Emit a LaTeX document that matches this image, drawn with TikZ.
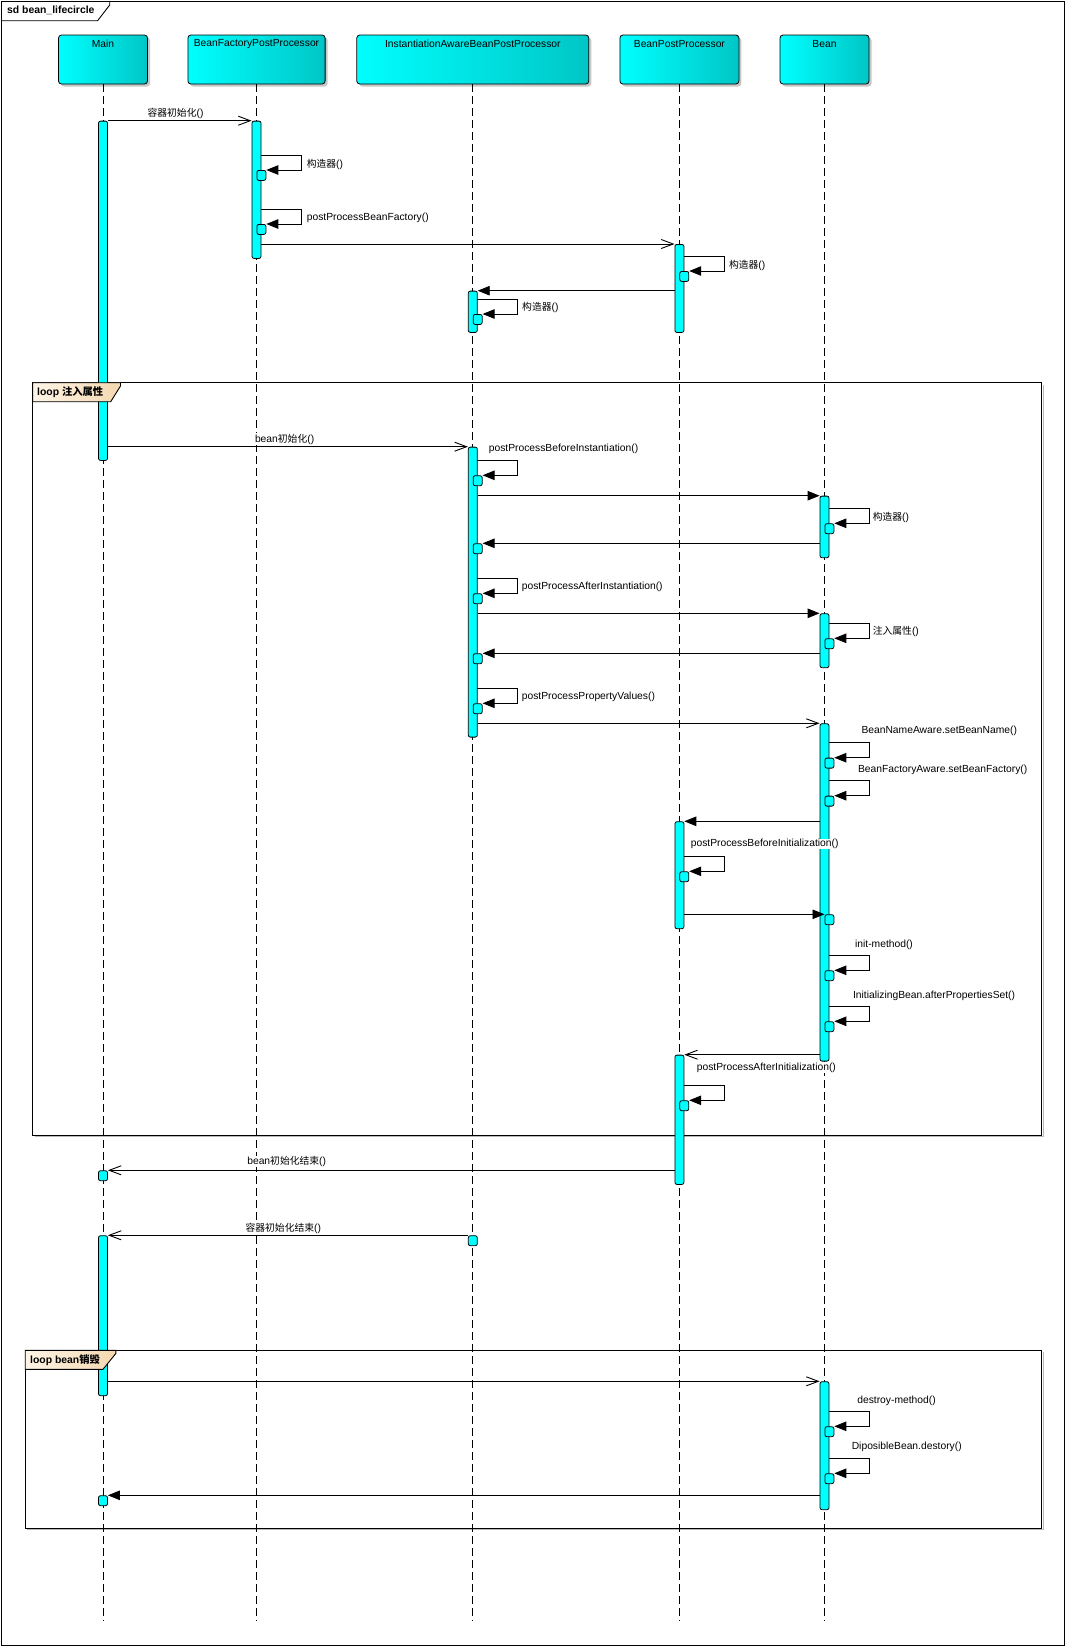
\documentclass[tikz,border=0pt]{standalone}
\usepackage{fontspec}
\setmainfont{Liberation Sans}
\newfontfamily\cjk{Noto Sans CJK SC}
\usetikzlibrary{arrows.meta,shadows}
\newcommand\zh[1]{{\cjk\fontsize{9.8}{11}\selectfont #1}}
\newcommand\zhb[1]{{\cjk\fontsize{10.3}{11}\selectfont #1}}
\definecolor{cyanA}{RGB}{0,255,255}
\definecolor{tealB}{RGB}{0,198,198}
\definecolor{peachA}{RGB}{254,244,230}
\definecolor{peachB}{RGB}{244,216,176}
\def\xM{103}
\def\xF{256.5}
\def\xI{472.8}
\def\xP{679.4}
\def\xB{824.5}
% self message: #1 lifeline x, #2 top y, #3 name of the small box
\newcommand\selfm[3]{%
  \node[ebox, anchor=north west] (#3) at (#1,#2+15) {};
  \draw[fillarr] (#1+4.5,#2) -- (#1+45,#2) -- (#1+45,#2+15) -- (#3.north east);
}
\begin{document}
\begin{tikzpicture}[x=1pt,y=-1pt,
  every node/.style={font=\fontsize{10.3}{12}\selectfont, inner sep=0.5pt},
  head/.style={draw=black, line width=0.8pt, rounded corners=3pt, left color=cyanA, right color=tealB,
    drop shadow={shadow xshift=2.5pt, shadow yshift=-2.5pt, fill=black, opacity=0.22},
    minimum height=49pt, inner sep=0pt},
  act/.style={draw=black, line width=0.8pt, fill=cyanA, rounded corners=2pt, minimum width=9pt, inner sep=0pt, anchor=north},
  ebox/.style={draw=black, line width=0.8pt, fill=cyanA, rounded corners=2pt, minimum width=9pt, minimum height=10pt, inner sep=0pt},
  msg/.style={line width=0.9pt},
  openarr/.style={msg, -{Straight Barb[length=12pt,width=9pt]}},
  fillarr/.style={msg, -{Triangle[length=12pt,width=9.5pt]}},
  lbl/.style={fill=white, inner sep=0.6pt, anchor=west},
  clbl/.style={fill=white, inner sep=0.6pt},
  lifeline/.style={line width=0.8pt, dash pattern=on 8pt off 4pt},
  frame/.style={line width=0.9pt},
  tab/.style={frame, left color=peachA, right color=peachB},
  boldlbl/.style={anchor=west, font=\bfseries\fontsize{10.4}{12}\selectfont}
]
\useasboundingbox (0,0) rectangle (1066,1647);
\fill[white] (0,0) rectangle (1066,1647);

% outer frame
\draw[frame] (1.5,1.5) rectangle (1064.5,1645.5);
\draw[frame] (1.5,20.7) -- (97.6,20.7) -- (109.7,5) -- (109.7,1.5);
\node[boldlbl] (title) at (6.5,10.8) {sd bean\_lifecircle};

% loop frames
\draw[gray!55, line width=1pt] (34.5,1136.6) -- (1043.1,1136.6) -- (1043.1,384.5);
\draw[frame] (32.6,382.7) rectangle (1041.5,1135);
\draw[gray!55, line width=1pt] (27,1529.9) -- (1043.1,1529.9) -- (1043.1,1352);
\draw[frame] (25.2,1350.3) rectangle (1041.5,1528.3);

% headers
\node[head, minimum width=89pt] (hM) at (\xM,59.5) {};
\node[head, minimum width=137.2pt] (hF) at (\xF,59.5) {};
\node[head, minimum width=232pt] (hI) at (\xI,59.5) {};
\node[head, minimum width=119pt] (hP) at (\xP,59.5) {};
\node[head, minimum width=89pt] (hB) at (\xB,59.5) {};
\node (tM) at (\xM,44.3) {Main};
\node (tF) at (\xF,44.3) {BeanFactoryPostProcessor};
\node (tI) at (\xI,44.3) {InstantiationAwareBeanPostProcessor};
\node (tP) at (\xP,44.3) {BeanPostProcessor};
\node (tB) at (\xB,44.3) {Bean};

% lifelines
\coordinate (eM) at (\xM,1621);
\coordinate (eF) at (\xF,1621);
\coordinate (eI) at (\xI,1621);
\coordinate (eP) at (\xP,1621);
\coordinate (eB) at (\xB,1621);
\draw[lifeline] (hM.south) -- (eM);
\draw[lifeline] (hF.south) -- (eF);
\draw[lifeline] (hI.south) -- (eI);
\draw[lifeline] (hP.south) -- (eP);
\draw[lifeline] (hB.south) -- (eB);

% activation bars
\node[act, minimum height=339.3pt] (aM1) at (\xM,120.7) {};
\node[act, minimum height=137.3pt] (aF1) at (\xF,120.7) {};
\node[act, minimum height=88pt] (aP1) at (\xP,244) {};
\node[act, minimum height=41.3pt] (aI1) at (\xI,290.7) {};
\node[act, minimum height=290pt] (aI2) at (\xI,446.7) {};
\node[act, minimum height=61.6pt] (aB1) at (\xB,495.7) {};
\node[act, minimum height=54pt] (aB2) at (\xB,613.3) {};
\node[act, minimum height=337.4pt] (aB3) at (\xB,723.3) {};
\node[act, minimum height=107pt] (aP2) at (\xP,821.3) {};
\node[act, minimum height=129.3pt] (aP3) at (\xP,1054.7) {};
\node[act, minimum height=160pt] (aM2) at (\xM,1235.3) {};
\node[act, minimum height=128pt] (aB4) at (\xB,1381.3) {};

% loop tabs (drawn over the activation bars)
\draw[tab] (32.6,382.7) -- (120.5,382.7) -- (120.5,386) -- (110.7,401.7) -- (32.6,401.7) -- cycle;
\node[boldlbl] (loopA) at (36.5,392.3) {loop \zhb{注入属性}};
\draw[tab] (25.2,1350.3) -- (115.8,1350.3) -- (115.8,1353.5) -- (103,1369.3) -- (25.2,1369.3) -- cycle;
\node[boldlbl] (loopB) at (29.5,1360) {loop bean\zhb{销毁}};

% return boxes
\node[ebox, anchor=north west] (r1) at (\xI,543.3) {};
\node[ebox, anchor=north west] (r2) at (\xI,653.3) {};
\node[ebox, anchor=north west] (r3) at (\xB,914.3) {};
\node[ebox, anchor=north] (r4) at (\xM,1170.3) {};
\node[ebox, anchor=north] (s1) at (\xI,1235.3) {};
\node[ebox, anchor=north] (r5) at (\xM,1495.3) {};

% messages
\draw[openarr] (aM1.north east) -- (aF1.north west);
\draw[openarr] (aF1.east |- aP1.north) -- (aP1.north west);
\draw[fillarr] (aP1.west |- aI1.north) -- (aI1.north east);
\draw[openarr] (aM1.east |- aI2.north) -- (aI2.north west);
\draw[fillarr] (aI2.east |- aB1.north) -- (aB1.north west);
\draw[fillarr] (aB1.west |- r1.north) -- (r1.north east);
\draw[fillarr] (aI2.east |- aB2.north) -- (aB2.north west);
\draw[fillarr] (aB2.west |- r2.north) -- (r2.north east);
\draw[openarr] (aI2.east |- aB3.north) -- (aB3.north west);
\draw[fillarr] (aB3.west |- aP2.north) -- (aP2.north east);
\draw[fillarr] (aP2.east |- r3.north) -- (r3.north west);
\draw[openarr] (aB3.west |- aP3.north) -- (aP3.north east);
\draw[openarr] (aP3.west |- r4.north) -- (r4.north east);
\draw[openarr] (s1.north west) -- (aM2.north east);
\draw[openarr] (aM2.east |- aB4.north) -- (aB4.north west);
\draw[fillarr] (aB4.west |- r5.north) -- (r5.north east);

% self messages
\selfm{\xF}{155}{sF1}
\selfm{\xF}{209}{sF2}
\selfm{\xP}{256}{sP1}
\selfm{\xI}{299}{sI1}
\selfm{\xI}{460.3}{sI2}
\selfm{\xB}{508.3}{sB1}
\selfm{\xI}{578.3}{sI3}
\selfm{\xB}{623.3}{sB2}
\selfm{\xI}{688.3}{sI4}
\selfm{\xB}{742.7}{sB3}
\selfm{\xB}{780.7}{sB4}
\selfm{\xP}{856.3}{sP2}
\selfm{\xB}{955.3}{sB5}
\selfm{\xB}{1006.3}{sB6}
\selfm{\xP}{1085.3}{sP3}
\selfm{\xB}{1411.3}{sB7}
\selfm{\xB}{1458.3}{sB8}

% labels
\node[clbl] (l1) at (175.5,113.3) {\zh{容器初始化}()};
\node[clbl] (l2) at (284.6,439) {bean\zh{初始化}()};
\node[clbl] (l3) at (286.7,1161.5) {bean\zh{初始化结束}()};
\node[clbl] (l4) at (283.3,1228.5) {\zh{容器初始化结束}()};
\node[lbl] (k1) at (306,164) {\zh{构造器}()};
\node[lbl] (k2) at (306,218) {postProcessBeanFactory()};
\node[lbl] (k3) at (728.2,265) {\zh{构造器}()};
\node[lbl] (k4) at (521.4,307.7) {\zh{构造器}()};
\node[lbl] (k5) at (488,448.7) {postProcessBeforeInstantiation()};
\node[lbl] (k6) at (872,517) {\zh{构造器}()};
\node[lbl] (k7) at (521,586.7) {postProcessAfterInstantiation()};
\node[lbl] (k8) at (872,631.7) {\zh{注入属性}()};
\node[lbl] (k9) at (521,696.7) {postProcessPropertyValues()};
\node[lbl] (k10) at (860.7,730.7) {BeanNameAware.setBeanName()};
\node[lbl] (k11) at (857.3,770) {BeanFactoryAware.setBeanFactory()};
\node[lbl] (k12) at (690,844) {postProcessBeforeInitialization()};
\node[lbl] (k13) at (854.3,945) {init-method()};
\node[lbl] (k14) at (852.3,995.7) {InitializingBean.afterPropertiesSet()};
\node[lbl] (k15) at (696,1067.7) {postProcessAfterInitialization()};
\node[lbl] (k16) at (856.5,1401) {destroy-method()};
\node[lbl] (k17) at (851,1447) {DiposibleBean.destory()};
\end{tikzpicture}
\end{document}
